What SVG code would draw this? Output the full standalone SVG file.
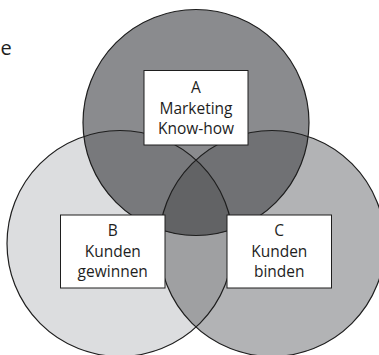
<svg xmlns="http://www.w3.org/2000/svg" width="379" height="355" viewBox="0 0 379 355">
<defs>
<clipPath id="clipB"><circle cx="120" cy="243.5" r="113"/></clipPath>
<clipPath id="clipC"><circle cx="272" cy="243.5" r="113"/></clipPath>
<style>
.edge{fill:none;stroke:#1e1e1e;stroke-width:1.2}
.box{fill:#ffffff;stroke:#1e1e1e;stroke-width:1}
.lbl{font-family:"Open Sans","Noto Sans",sans-serif;font-size:15.5px;fill:#1e1e1e;text-anchor:middle}
</style>
</defs>
<rect width="379" height="355" fill="#ffffff"/>
<text x="0.5" y="55" style="font-family:'Open Sans','Noto Sans',sans-serif;font-size:20px;fill:#1e1e1e">e</text>
<g id="regions">
<circle cx="120" cy="243.5" r="113" fill="#dcdddf"/>
<circle cx="272" cy="243.5" r="113" fill="#b2b3b5"/>
<circle cx="272" cy="243.5" r="113" fill="#9fa0a2" clip-path="url(#clipB)"/>
<circle cx="196" cy="122.5" r="113" fill="#8a8b8e"/>
<circle cx="196" cy="122.5" r="113" fill="#78797c" clip-path="url(#clipB)"/>
<circle cx="196" cy="122.5" r="113" fill="#707174" clip-path="url(#clipC)"/>
<g clip-path="url(#clipB)"><circle cx="196" cy="122.5" r="113" fill="#626365" clip-path="url(#clipC)"/></g>
</g>
<g id="connectors">
<circle class="edge" cx="120" cy="243.5" r="113"/>
<circle class="edge" cx="272" cy="243.5" r="113"/>
<circle class="edge" cx="196" cy="122.5" r="113"/>
</g>
<g id="nodeA">
<rect class="box" x="144" y="70.5" width="104" height="74.5"/>
<text class="lbl" x="196" y="93">A</text>
<text class="lbl" x="196" y="113.5">Marketing</text>
<text class="lbl" x="196" y="134">Know-how</text>
</g>
<g id="nodeB">
<rect class="box" x="60.5" y="215" width="104.5" height="73"/>
<text class="lbl" x="112.75" y="236">B</text>
<text class="lbl" x="112.75" y="256.5">Kunden</text>
<text class="lbl" x="112.75" y="277">gewinnen</text>
</g>
<g id="nodeC">
<rect class="box" x="227" y="215" width="104.5" height="73"/>
<text class="lbl" x="279.25" y="236">C</text>
<text class="lbl" x="279.25" y="256.5">Kunden</text>
<text class="lbl" x="279.25" y="277">binden</text>
</g>
</svg>
